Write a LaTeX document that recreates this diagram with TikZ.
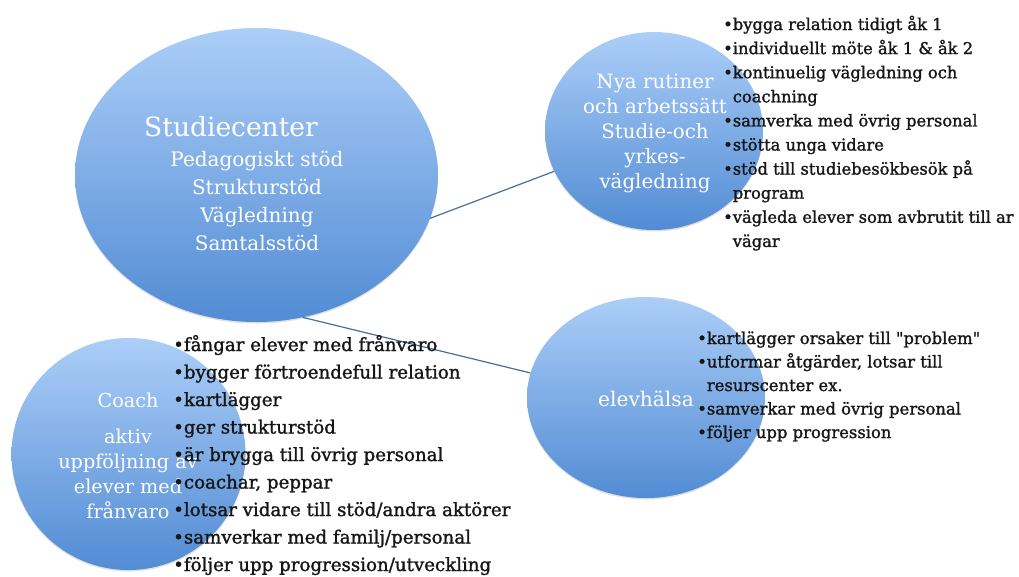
\documentclass[tikz,border=0pt]{standalone}
\usepackage{fontspec}
\setmainfont{DejaVu Serif}
\newfontfamily\listfont{DejaVu Serif}[FakeBold=1.4]
\usetikzlibrary{shapes.geometric,shadows}
\definecolor{bubtop}{RGB}{172,206,248}
\definecolor{bubbot}{RGB}{82,140,212}
\definecolor{lnblue}{RGB}{72,110,158}
\definecolor{ink}{RGB}{22,22,22}
\newcommand{\lrows}[1]{\begin{tabular}[t]{@{}l@{}}#1\end{tabular}}
\newcommand{\crows}[1]{\begin{tabular}[t]{@{}c@{}}#1\end{tabular}}
\tikzset{
    bubble/.style={ellipse, inner sep=0pt, draw=none, top color=bubtop, bottom color=bubbot,
        drop shadow={shadow xshift=0pt, shadow yshift=-1.5pt, opacity=0.25}},
    link/.style={lnblue, line width=1.2pt},
    btxt/.style={text=white, inner sep=0pt, anchor=base},
    lst/.style={text=ink, inner sep=0pt, anchor=base west}
}
\begin{document}
\begin{tikzpicture}[x=1pt,y=-1pt]
    \useasboundingbox (0,0) rectangle (1019,576);

    \node[bubble, minimum width=363pt, minimum height=294pt] (sc) at (256.5,175) {};
    \node[bubble, minimum width=218pt, minimum height=198pt] (nya) at (654,131) {};
    \node[bubble, minimum width=234pt, minimum height=232pt] (coach) at (128.5,454) {};
    \node[bubble, minimum width=238pt, minimum height=201pt] (elev) at (646,397.5) {};

    \draw[link] (sc.-14) -- (nya.-158);
    \draw[link] (sc.-72) -- (elev.168);

    \node[btxt, font=\fontsize{26.5}{30}\selectfont] (sctitle) at (231,136) {Studiecenter};
    \node[btxt, font=\fontsize{20}{28}\selectfont] (scsub) at (257,166)
        {\crows{Pedagogiskt stöd\\Strukturstöd\\Vägledning\\Samtalsstöd}};
    \node[btxt, font=\fontsize{19.8}{25.2}\selectfont] (nyatext) at (655,88)
        {\crows{Nya rutiner\\och arbetssätt\\Studie-och\\yrkes-\\vägledning}};
    \node[btxt, font=\fontsize{20.2}{25}\selectfont] (elevtext) at (646,406) {elevhälsa};
    \node[btxt, font=\fontsize{19.2}{25.3}\selectfont] (coachtitle) at (128,407) {Coach};
    \node[btxt, font=\fontsize{19.2}{25.3}\selectfont] (coachtext) at (128,443)
        {\crows{aktiv\\uppföljning av\\elever med\\frånvaro}};

    \node[lst, font=\listfont\fontsize{16.3}{24.1}\selectfont] (nyalist) at (723,30)
        {\lrows{•bygga relation tidigt åk 1\\
        •individuellt möte åk 1 \& åk 2\\
        •kontinuelig vägledning och\\
        \phantom{•}coachning\\
        •samverka med övrig personal\\
        •stötta unga vidare\\
        •stöd till studiebesökbesök på\\
        \phantom{•}program\\
        •vägleda elever som avbrutit till ar\\
        \phantom{•}vägar}};
    \node[lst, font=\listfont\fontsize{16.4}{23.5}\selectfont] (elevlist) at (697,344)
        {\lrows{•kartlägger orsaker till \textquotedbl problem\textquotedbl\\
        •utformar åtgärder, lotsar till\\
        \phantom{•}resurscenter ex.\\
        •samverkar med övrig personal\\
        •följer upp progression}};
    \node[lst, font=\listfont\fontsize{18.2}{27.5}\selectfont] (coachlist) at (173,351)
        {\lrows{•fångar elever med frånvaro\\
        •bygger förtroendefull relation\\
        •kartlägger\\
        •ger strukturstöd\\
        •är brygga till övrig personal\\
        •coachar, peppar\\
        •lotsar vidare till stöd/andra aktörer\\
        •samverkar med familj/personal\\
        •följer upp progression/utveckling}};
\end{tikzpicture}
\end{document}
